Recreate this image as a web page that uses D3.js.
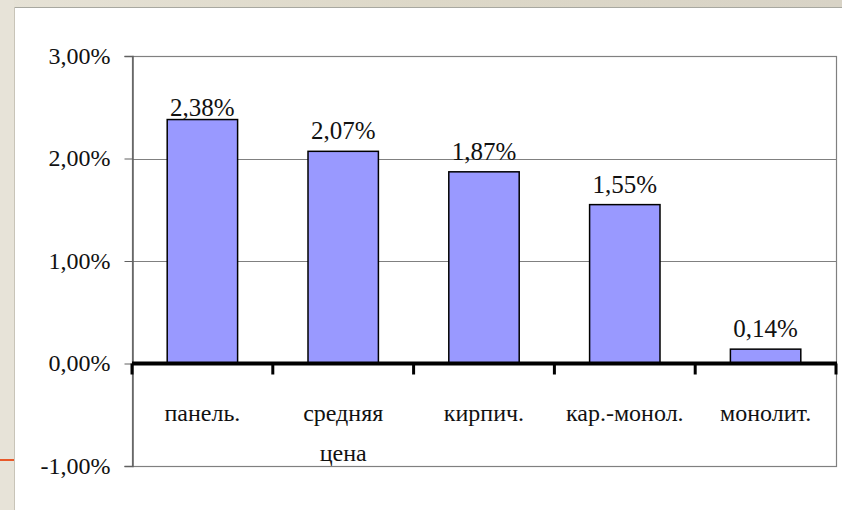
<!DOCTYPE html>
<html><head><meta charset="utf-8">
<script src="https://cdn.jsdelivr.net/npm/d3@7"></script>
<style>body{margin:0;background:#fff}svg{display:block}
text,tspan{font-family:"Liberation Serif","DejaVu Serif","Times New Roman",serif !important;}</style>
</head><body>
<svg id="c" width="842" height="510"></svg>
<script>
const categories = ["панель.", "средняя цена", "кирпич.", "кар.-монол.", "монолит."];
const values = [2.38, 2.07, 1.87, 1.55, 0.14];
const yTicks = [-1, 0, 1, 2, 3];
const valueLabels = ["2,38%", "2,07%", "1,87%", "1,55%", "0,14%"];

const svg = d3.select("#c");
const W = 842, H = 510;
const m = {left: 132, right: 836, top: 56, bottom: 466};

// background frame
const grad = svg.append("defs").append("linearGradient").attr("id","tg").attr("x1",0).attr("x2",1);
grad.append("stop").attr("offset","0").attr("stop-color","#e6e2d6");
grad.append("stop").attr("offset","0.5").attr("stop-color","#ddd8c8");
grad.append("stop").attr("offset","1").attr("stop-color","#d8d3c6");
svg.append("rect").attr("x",0).attr("y",0).attr("width",W).attr("height",7).attr("fill","url(#tg)");
svg.append("rect").attr("x",0).attr("y",0).attr("width",14).attr("height",H).attr("fill","#e7e3d8");
svg.append("line").attr("x1",14).attr("x2",W).attr("y1",7.5).attr("y2",7.5).attr("stroke","#a8a8a0").attr("stroke-width",1);
svg.append("line").attr("x1",14.5).attr("x2",14.5).attr("y1",7).attr("y2",H).attr("stroke","#c8c4b8").attr("stroke-width",1);
svg.append("line").attr("x1",0).attr("x2",14).attr("y1",460).attr("y2",460).attr("stroke","#e8592a").attr("stroke-width",2);

const x = d3.scaleBand().domain(categories).range([m.left, m.right]).paddingInner(0.5).paddingOuter(0.25);
const xb = d3.scaleBand().domain(categories).range([m.left, m.right]).padding(0);
const y = d3.scaleLinear().domain([-1, 3]).range([m.bottom, m.top]);

const fmt = d => d3.format(".2f")(d).replace(".", ",").replace("−","-") + "%";

// gridlines
svg.append("g").selectAll("line").data(yTicks.filter(t => t !== 0 && t !== -1)).join("line")
  .attr("x1", m.left).attr("x2", m.right)
  .attr("y1", d => Math.round(y(d)) + 0.5).attr("y2", d => Math.round(y(d)) + 0.5)
  .attr("stroke", "#808080").attr("stroke-width", 1);
// border
svg.append("rect").attr("x", m.left + 0.5).attr("y", m.top + 0.5)
  .attr("width", m.right - m.left).attr("height", m.bottom - m.top)
  .attr("fill", "none").attr("stroke", "#808080").attr("stroke-width", 1.2);

// y axis
const yAxis = svg.append("g").attr("transform", `translate(${m.left + 0.5},0)`)
  .call(d3.axisLeft(y).tickValues(yTicks).tickSize(8).tickPadding(14).tickFormat(fmt));
yAxis.attr("font-family", null);
yAxis.select(".domain").attr("stroke", "#606060").attr("stroke-width", 1.5);
yAxis.selectAll(".tick line").attr("stroke", "#606060");
yAxis.selectAll("text").attr("font-size", 24).attr("fill", "#111").attr("dy", "0.3em");

// bars
svg.append("g").selectAll("rect").data(categories).join("rect")
  .attr("x", d => x(d)).attr("width", x.bandwidth())
  .attr("y", (d, i) => y(Math.max(0, values[i])))
  .attr("height", (d, i) => Math.abs(y(values[i]) - y(0)))
  .attr("fill", "#9999ff").attr("stroke", "#000").attr("stroke-width", 1.5);

// value labels
svg.append("g").selectAll("text").data(categories).join("text")
  .attr("x", d => x(d) + x.bandwidth() / 2)
  .attr("y", (d, i) => y(values[i]) - (i === 0 ? 4 : 12))
  .attr("text-anchor", "middle")
  .attr("font-size", 25).attr("fill", "#111")
  .text((d, i) => valueLabels[i]);

// zero axis with category ticks
const xAxis = svg.append("g").attr("transform", `translate(0,${y(0)})`);
xAxis.append("line").attr("x1", m.left).attr("x2", m.right + 1)
  .attr("stroke", "#000").attr("stroke-width", 4);
const boundaries = categories.map(c => xb(c)).concat([m.right]);
xAxis.selectAll("line.tk").data(boundaries).join("line").attr("class", "tk")
  .attr("x1", d => d).attr("x2", d => d).attr("y1", 0).attr("y2", 11)
  .attr("stroke", "#000").attr("stroke-width", 3);

// category labels
const lab = svg.append("g").selectAll("text").data(categories).join("text")
  .attr("x", d => xb(d) + xb.bandwidth() / 2)
  .attr("y", 421)
  .attr("text-anchor", "middle")
  .attr("font-size", 24).attr("fill", "#111");
lab.each(function(d) {
  const words = d === "средняя цена" ? ["средняя", "цена"] : [d];
  d3.select(this).selectAll("tspan").data(words).join("tspan")
    .attr("x", xb(d) + xb.bandwidth() / 2)
    .attr("dy", (w, i) => i === 0 ? 0 : 40)
    .text(w => w);
});
</script>
</body></html>
